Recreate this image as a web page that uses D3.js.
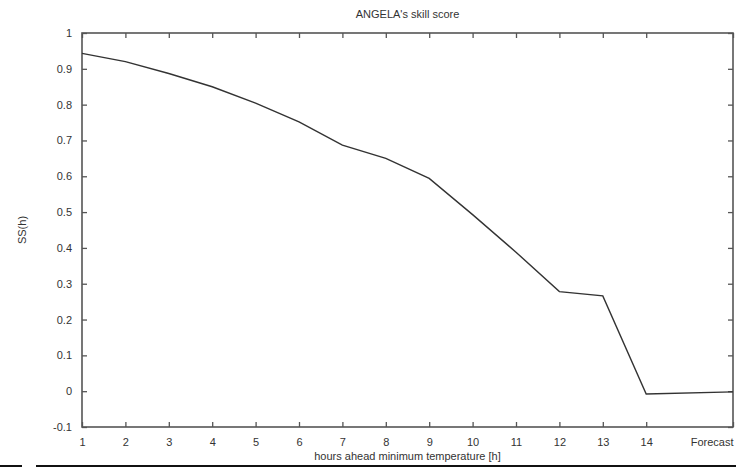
<!DOCTYPE html>
<html>
<head>
<meta charset="utf-8">
<script src="https://cdn.jsdelivr.net/npm/d3@7"></script>
<style>
  body { margin: 0; background: #fff; }
  text { font-family: "Liberation Sans", Arial, sans-serif; fill: #333; }
</style>
</head>
<body>
<svg width="748" height="472"></svg>
<script>
let hours = [1, 2, 3, 4, 5, 6, 7, 8, 9, 10, 11, 12, 13, 14, 16];
let skill = [0.943, 0.92, 0.887, 0.85, 0.804, 0.752, 0.687, 0.65, 0.594, 0.493, 0.388, 0.278, 0.266, -0.008, -0.002];
let xTicks = [1, 2, 3, 4, 5, 6, 7, 8, 9, 10, 11, 12, 13, 14, 16];
let xTickLabels = ["1", "2", "3", "4", "5", "6", "7", "8", "9", "10", "11", "12", "13", "14", "Forecast"];
let yTicks = [-0.1, 0, 0.1, 0.2, 0.3, 0.4, 0.5, 0.6, 0.7, 0.8, 0.9, 1];

let plotLeft = 82, plotRight = 733, plotTop = 33, plotBottom = 427;
let svg = d3.select("svg");

let x = d3.scaleLinear().domain([1, 16]).range([plotLeft, plotRight]);
let y = d3.scaleLinear().domain([-0.1, 1]).range([plotBottom, plotTop]);

let axisColor = "#555";

// inward ticks on all four sides
let tickLen = 5;
function styleAxis(g) {
  g.select(".domain").remove();
  g.selectAll(".tick line").attr("stroke", axisColor).attr("stroke-width", 1.3);
  g.selectAll(".tick text").style("font-size", "11px");
}

svg.append("g")
  .attr("transform", `translate(0,${plotBottom})`)
  .call(d3.axisBottom(x).tickValues(xTicks).tickSize(-tickLen).tickPadding(11)
    .tickFormat((d, i) => xTickLabels[i]))
  .call(styleAxis)
  .call((g) => g.selectAll(".tick text")
    .attr("text-anchor", (d) => (d === 16 ? "end" : "middle")));

svg.append("g")
  .attr("transform", `translate(0,${plotTop})`)
  .call(d3.axisTop(x).tickValues(xTicks).tickSize(-tickLen).tickFormat(""))
  .call(styleAxis);

// plain hyphen for negative labels, like the original
svg.append("g")
  .attr("transform", `translate(${plotLeft},0)`)
  .call(d3.axisLeft(y).tickValues(yTicks).tickSize(-tickLen).tickPadding(10)
    .tickFormat((d) => d3.format("~g")(d).replace("\u2212", "-")))
  .call(styleAxis);

svg.append("g")
  .attr("transform", `translate(${plotRight},0)`)
  .call(d3.axisRight(y).tickValues(yTicks).tickSize(-tickLen).tickFormat(""))
  .call(styleAxis);

svg.append("rect")
  .attr("x", plotLeft).attr("y", plotTop)
  .attr("width", plotRight - plotLeft).attr("height", plotBottom - plotTop)
  .attr("fill", "none").attr("stroke", axisColor).attr("stroke-width", 1.6);

let line = d3.line().x((d, i) => x(hours[i])).y((d) => y(d));

svg.append("path")
  .datum(skill)
  .attr("d", line)
  .attr("fill", "none")
  .attr("stroke", "#333")
  .attr("stroke-width", 1.4);

svg.append("text")
  .attr("x", (plotLeft + plotRight) / 2).attr("y", 18)
  .attr("text-anchor", "middle")
  .style("font-size", "11px")
  .text("ANGELA's skill score");

svg.append("text")
  .attr("x", (plotLeft + plotRight) / 2).attr("y", 460)
  .attr("text-anchor", "middle")
  .style("font-size", "11px")
  .text("hours ahead minimum temperature [h]");

svg.append("text")
  .attr("transform", `translate(26,${(plotTop + plotBottom) / 2}) rotate(-90)`)
  .attr("text-anchor", "middle")
  .style("font-size", "11px")
  .text("SS(h)");

// page rules under the figure
svg.append("line").attr("x1", 0).attr("x2", 22).attr("y1", 466).attr("y2", 466)
  .attr("stroke", "#111").attr("stroke-width", 2);
svg.append("line").attr("x1", 36).attr("x2", 736).attr("y1", 466).attr("y2", 466)
  .attr("stroke", "#111").attr("stroke-width", 2);
</script>
</body>
</html>
